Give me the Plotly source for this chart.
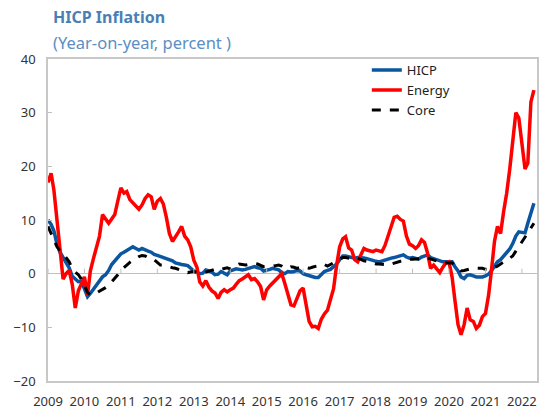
import pandas as pd
import plotly.graph_objects as go

start_month = "2009-01-01"
n_months = 161

hicp = [10.0, 9.2, 8.0, 5.5, 4.0, 3.0, 1.9, 1.1, -0.5, -1.0, -1.5, -1.4,
        -3.0, -4.3, -3.7, -2.9, -2.1, -1.4, -0.6, -0.2, 0.6, 1.7, 2.3, 3.0,
        3.7, 4.0, 4.3, 4.6, 5.0, 4.7, 4.4, 4.7, 4.4, 4.2, 4.0, 3.6,
        3.4, 3.2, 3.0, 2.8, 2.6, 2.4, 2.0, 1.8, 1.7, 1.6, 1.5, 1.0,
        0.5, 0.3, 0.0, 0.1, 0.7, 0.5, 0.3, -0.2, -0.1, 0.4, 0.0, -0.2,
        0.5, 0.7, 0.9, 0.8, 0.7, 0.8, 1.0, 1.2, 1.3, 1.1, 1.0, 0.5,
        0.6, 0.8, 1.0, 0.8, 0.7, 0.2, 0.0, 0.4, 0.3, 0.4, 0.6, 0.5,
        0.0, -0.2, -0.4, -0.6, -0.7, -0.7, -0.2, 0.4, 0.6, 0.8, 1.3, 1.8,
        2.6, 3.3, 3.3, 3.2, 3.0, 2.9, 3.0, 3.0, 2.9, 2.8, 2.6, 2.4,
        2.3, 2.2, 2.4, 2.6, 2.7, 2.9, 3.0, 3.2, 3.4, 3.5, 3.1, 2.9,
        3.0, 2.9, 2.7, 3.1, 3.3, 3.5, 3.0, 2.8, 2.6, 2.3, 2.2, 2.2,
        2.2, 2.2, 1.3, 0.5, -0.6, -0.9, -0.3, -0.2, -0.4, -0.6, -0.6, -0.6,
        -0.4, -0.1, 0.5, 1.5, 2.2, 2.6, 3.3, 4.0, 4.6, 5.6, 7.0, 7.8,
        7.7, 7.6, 9.4, 11.5, 13.1]

energy = [17.0, 18.7, 15.6, 9.5, 4.0, -1.0, 0.0, 0.6, -2.0, -6.4, -3.2, -1.8,
          -0.6, -4.0, 0.5, 2.8, 4.8, 7.0, 11.0, 10.2, 9.4, 10.2, 11.0, 13.5,
          16.0, 15.0, 15.3, 13.8, 13.2, 12.4, 12.0, 12.8, 14.0, 14.7, 14.3, 12.0,
          13.5, 14.0, 13.0, 10.5, 7.5, 6.0, 6.8, 7.8, 8.8, 7.0, 6.3, 5.0,
          2.5, 1.2, -1.5, -2.3, -1.3, -2.5, -3.2, -3.6, -4.6, -3.5, -3.0, -3.4,
          -3.0, -2.7, -2.0, -1.3, -1.0, -0.6, -0.2, -1.1, -0.9, -1.5, -2.4, -4.9,
          -3.0, -2.3, -1.8, -1.2, -0.5, 0.0, -1.8, -3.8, -5.8, -6.0, -4.5, -3.2,
          -2.7, -6.0, -8.9, -9.9, -9.8, -10.2, -8.5, -7.5, -6.8, -4.8, -2.8, 1.5,
          5.0, 6.5, 6.9, 4.8, 4.4, 2.6, 2.2, 3.5, 4.7, 4.4, 4.2, 4.1,
          4.4, 4.2, 4.1, 5.3, 6.9, 8.8, 10.5, 10.7, 10.1, 9.8, 7.0, 5.5,
          5.2, 4.7, 5.2, 6.3, 5.8, 3.8, 1.0, 1.6, 0.8, 0.2, 1.2, 2.0,
          2.2, -0.6, -5.0, -9.5, -11.4, -9.5, -6.4, -8.6, -8.9, -10.2, -9.6, -8.0,
          -7.4, -4.0, 0.5, 6.0, 8.8, 7.5, 11.5, 15.0, 19.5, 25.0, 30.0, 29.0,
          24.0, 19.5, 20.6, 32.0, 34.2]

core = [8.8, 7.5, 6.2, 5.0, 4.3, 3.8, 3.0, 2.2, 1.0, 0.3, -0.2, -1.0,
        -2.2, -3.5, -4.0, -3.9, -3.6, -3.3, -3.0, -2.6, -2.2, -1.6, -1.0, -0.2,
        0.6, 1.1, 1.7, 2.1, 2.5, 2.9, 3.2, 3.4, 3.3, 3.0, 3.0, 2.6,
        2.0, 1.6, 1.6, 1.4, 1.3, 1.1, 1.0, 0.8, 0.6, 0.3, 0.2, 0.3,
        0.4, 0.2, 0.1, 0.1, 0.3, 0.5, 0.7, 0.9, 1.0, 0.8, 1.0, 1.1,
        0.9, 1.0, 1.5, 1.8, 1.7, 1.6, 1.7, 1.8, 1.9, 1.8, 1.5, 1.3,
        1.3, 1.3, 1.4, 1.5, 1.6, 1.4, 1.0, 1.1, 1.3, 1.2, 1.0, 1.2,
        1.3, 1.1, 1.0, 1.2, 1.3, 1.5, 1.8, 1.7, 1.4, 1.7, 2.0, 2.4,
        2.7, 3.0, 3.0, 2.9, 2.8, 2.7, 2.9, 2.6, 2.4, 2.3, 2.1, 1.9,
        1.8, 1.8, 1.8, 1.7, 1.6, 1.8, 2.0, 2.1, 2.3, 2.4, 2.6, 2.7,
        2.7, 2.7, 2.8, 2.9, 3.0, 2.9, 2.7, 2.5, 2.3, 2.2, 2.0, 2.0,
        2.0, 2.0, 1.6, 1.1, 0.5, 0.6, 0.8, 0.9, 1.0, 1.0, 1.0, 1.0,
        0.8, 0.8, 1.0, 1.2, 1.4, 1.8, 2.1, 2.5, 2.9, 3.3, 4.2, 5.0,
        6.0, 6.8, 7.6, 8.5, 9.4]

y_ticks = [-20, -10, 0, 10, 20, 30, 40]
year_ticks = list(range(2009, 2023))

dates = pd.date_range(start_month, periods=n_months, freq="MS")

FONT = "Noto Sans"
fig = go.Figure()
fig.add_trace(go.Scatter(x=dates, y=hicp, mode="lines", name="HICP",
                         line=dict(color="#0b56a0", width=3.5)))
fig.add_trace(go.Scatter(x=dates, y=energy, mode="lines", name="Energy",
                         line=dict(color="#ff0000", width=3.5)))
fig.add_trace(go.Scatter(x=dates, y=core, mode="lines", name="Core",
                         line=dict(color="#000000", width=3, dash="dash")))

# small tick marks on the zero line at each year
for yr in year_ticks:
    fig.add_shape(type="line", xref="x", yref="y", x0=f"{yr}-01-01", x1=f"{yr}-01-01",
                  ysizemode="pixel", yanchor=0, y0=0, y1=5,
                  line=dict(color="#bfbfbf", width=1))

fig.update_layout(
    width=544, height=410,
    margin=dict(l=48, r=7, t=59, b=29),
    paper_bgcolor="white", plot_bgcolor="white",
    font=dict(family=FONT, size=13, color="#333333"),
    showlegend=True,
    legend=dict(x=0.652, y=1.012, xanchor="left", yanchor="top",
                bgcolor="rgba(0,0,0,0)", font=dict(size=13, color="#222222"),
                tracegroupgap=0, itemwidth=30),
    xaxis=dict(type="date", range=["2009-01-01", "2022-06-01"], automargin=False,
               tickvals=[f"{y}-01-01" for y in year_ticks],
               ticktext=[str(y) for y in year_ticks],
               showgrid=False, zeroline=False,
               showline=True, linecolor="#c8c8c8", linewidth=1.5, mirror=True,
               ticks="", tickfont=dict(size=13, color="#333333"),
               ticklabelstandoff=8),
    yaxis=dict(range=[-20, 40], tickvals=y_ticks, automargin=False,
               showgrid=False, zeroline=True, zerolinecolor="#bfbfbf", zerolinewidth=1,
               showline=True, linecolor="#c8c8c8", linewidth=1.5, mirror=True,
               ticks="inside", ticklen=4, tickcolor="#bfbfbf",
               tickfont=dict(size=13, color="#333333"),
               ticklabelstandoff=8),
    annotations=[
        dict(text="<b>HICP Inflation</b>", xref="paper", yref="paper",
             x=0, y=1, xanchor="left", yanchor="middle", xshift=3, yshift=42,
             showarrow=False, font=dict(family=FONT, size=16, color="#4a7fb5")),
        dict(text="(Year-on-year, percent )", xref="paper", yref="paper",
             x=0, y=1, xanchor="left", yanchor="middle", xshift=3, yshift=17,
             showarrow=False, font=dict(family=FONT, size=16.5, color="#5b8ec4")),
    ],
)

fig.write_html("out.html", config={"displayModeBar": False},
               post_script="document.body.style.margin='0';document.body.style.padding='0';")
